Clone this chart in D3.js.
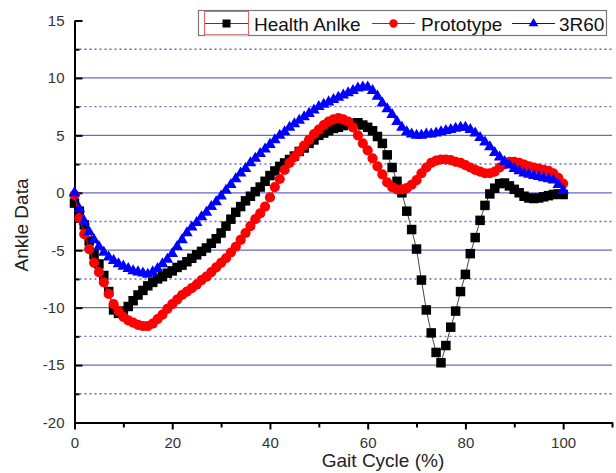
<!DOCTYPE html>
<html>
	<head>
		<meta charset="utf-8">
		<title>Ankle Data</title>
		<style>
			body { margin: 0; background: #fff; }
			.axis text { font: 15px "Liberation Sans", Arial, sans-serif; fill: #333; }
			.axis path, .axis line { stroke: #000; stroke-width: 2; }
			.title { font: 19px "Liberation Sans", Arial, sans-serif; fill: #222; }
			.legend text { font: 19px "Liberation Sans", Arial, sans-serif; fill: #111; }
		</style>
		<script src="https://d3js.org/d3.v7.min.js"></script>
	</head>
	<body>
		<div id="chart"></div>
		<script>
			// gait cycle in %, one value per step
			var cycle = d3.range(0, 101);

			var health = [
				-0.9, -1.6, -2.8, -4.2, -5.4, -6.2, -7.2, -8.6, -10.2, -10.5,
				-10.3, -9.9, -9.4, -8.9, -8.5, -8.1, -7.8, -7.5, -7.3, -7.0,
				-6.8, -6.5, -6.3, -6.0, -5.7, -5.4, -5.1, -4.8, -4.4, -4.0,
				-3.5, -2.9, -2.3, -1.7, -1.2, -0.7, -0.3, 0.1, 0.5, 1.0,
				1.5, 1.9, 2.3, 2.6, 2.9, 3.2, 3.6, 3.9, 4.3, 4.6,
				5.0, 5.2, 5.4, 5.6, 5.7, 5.85, 5.95, 6.05, 6.1, 5.9,
				5.7, 5.4, 4.9, 4.3, 3.3, 2.2, 1.0, 0.0, -1.6, -3.2,
				-4.9, -7.6, -10.2, -12.2, -13.9, -14.8, -13.3, -11.7, -10.3, -8.6,
				-7.1, -5.3, -3.9, -2.4, -1.1, -0.1, 0.4, 0.8, 0.85, 0.6,
				0.3, 0.0, -0.3, -0.45, -0.5, -0.45, -0.35, -0.25, -0.15, -0.1,
				-0.15
			];

			var prototype = [
				-0.2, -2.2, -3.6, -4.9, -6.1, -6.9, -7.8, -8.8, -9.7, -10.3,
				-10.8, -11.1, -11.3, -11.5, -11.6, -11.6, -11.4, -11.0, -10.6, -10.1,
				-9.7, -9.3, -8.9, -8.6, -8.3, -8.0, -7.6, -7.3, -6.9, -6.5,
				-6.1, -5.7, -5.2, -4.7, -4.1, -3.5, -2.9, -2.3, -1.8, -1.2,
				-0.4, 0.5, 1.2, 2.0, 2.6, 3.1, 3.6, 4.1, 4.6, 5.1,
				5.5, 5.9, 6.2, 6.4, 6.5, 6.4, 6.2, 5.7, 5.0, 4.3,
				3.7, 3.0, 2.3, 1.6, 0.9, 0.5, 0.3, 0.3, 0.4, 0.7,
				1.1, 1.7, 2.2, 2.6, 2.8, 2.9, 2.9, 2.85, 2.7, 2.6,
				2.4, 2.2, 2.0, 1.85, 1.7, 1.7, 1.85, 2.2, 2.5, 2.7,
				2.7, 2.6, 2.45, 2.3, 2.2, 2.1, 2.0, 1.9, 1.7, 1.3,
				0.8
			];

			var r3r60 = [
				0.0, -1.4, -2.5, -3.4, -4.1, -4.7, -5.2, -5.6, -5.9, -6.2,
				-6.4, -6.6, -6.8, -6.9, -7.0, -7.1, -6.9, -6.6, -6.2, -5.8,
				-5.3, -4.7, -4.1, -3.5, -3.0, -2.6, -2.1, -1.7, -1.2, -0.8,
				-0.3, 0.2, 0.7, 1.2, 1.7, 2.1, 2.6, 3.0, 3.4, 3.8,
				4.2, 4.6, 5.0, 5.3, 5.7, 6.0, 6.3, 6.6, 6.9, 7.2,
				7.5, 7.7, 7.9, 8.1, 8.3, 8.5, 8.7, 8.9, 9.1, 9.2,
				9.2, 8.9, 8.4, 7.8, 7.3, 6.8, 6.2, 5.7, 5.3, 5.1,
				5.0, 5.0, 5.1, 5.1, 5.2, 5.3, 5.4, 5.5, 5.6, 5.7,
				5.7, 5.5, 5.2, 4.8, 4.4, 4.0, 3.5, 3.1, 2.7, 2.4,
				2.1, 1.9, 1.7, 1.6, 1.5, 1.4, 1.3, 1.2, 1.1, 0.7,
				0.2
			];

			var seriesNames = ["Health Anlke", "Prototype", "3R60"];
			var xMajor = [0, 20, 40, 60, 80, 100];
			var xMinor = [10, 30, 50, 70, 90, 110];
			var yMajor = [-20, -15, -10, -5, 0, 5, 10, 15];
			var yMinor = [-17.5, -12.5, -7.5, -2.5, 2.5, 7.5, 12.5];

			var width = 616, height = 473;

			var x = d3.scaleLinear().domain([0, 110]).range([74.5, 612]);
			var y = d3.scaleLinear().domain([-20, 15]).range([422.5, 20.5]);

			var svg = d3.select("#chart").append("svg")
				.attr("width", width)
				.attr("height", height);

			// grid: solid at majors, dotted at minors
			svg.append("g").selectAll("line")
				.data(yMajor.filter(function(v) { return v > -20 && v < 15; }))
				.enter().append("line")
				.attr("x1", x(0)).attr("x2", x(110))
				.attr("y1", function(d) { return y(d); })
				.attr("y2", function(d) { return y(d); })
				.attr("stroke", "#6a6ac4")
				.attr("stroke-width", 1.3);

			svg.append("g").selectAll("line")
				.data(yMinor)
				.enter().append("line")
				.attr("x1", x(0)).attr("x2", x(110))
				.attr("y1", function(d) { return y(d); })
				.attr("y2", function(d) { return y(d); })
				.attr("stroke", "#6a6ac4")
				.attr("stroke-width", 1.4)
				.attr("stroke-dasharray", "2,3");

			// axes (plain hyphen for negatives, like the original)
			var plain = function(d) { return String(d); };

			svg.append("g")
				.attr("class", "axis")
				.attr("transform", "translate(" + x(0) + ",0)")
				.call(d3.axisLeft(y).tickValues(yMajor).tickFormat(plain).tickSize(-8).tickSizeOuter(0).tickPadding(10));

			svg.append("g")
				.attr("class", "axis")
				.attr("transform", "translate(" + x(0) + ",0)")
				.call(d3.axisLeft(y).tickValues(yMinor).tickSize(-5).tickSizeOuter(0).tickFormat(""));

			svg.append("g")
				.attr("class", "axis")
				.attr("transform", "translate(0," + y(-20) + ")")
				.call(d3.axisBottom(x).tickValues(xMajor).tickFormat(plain).tickSize(7).tickSizeOuter(0).tickPadding(8));

			svg.append("g")
				.attr("class", "axis")
				.attr("transform", "translate(0," + y(-20) + ")")
				.call(d3.axisBottom(x).tickValues(xMinor).tickSize(5).tickSizeOuter(0).tickFormat(""));

			svg.append("text")
				.attr("class", "title")
				.attr("x", 383)
				.attr("y", 467)
				.attr("text-anchor", "middle")
				.text("Gait Cycle (%)");

			svg.append("text")
				.attr("class", "title")
				.attr("transform", "translate(28," + 225 + ") rotate(-90)")
				.attr("text-anchor", "middle")
				.text("Ankle Data");

			// series
			var line = d3.line()
				.x(function(d) { return x(d[0]); })
				.y(function(d) { return y(d[1]); });

			function pairs(vals) {
				return cycle.map(function(c, i) { return [c, vals[i]]; });
			}

			var square = d3.symbol().type(d3.symbolSquare).size(90);
			var triangle = d3.symbol().type(d3.symbolTriangle).size(58);

			svg.append("path")
				.datum(pairs(health))
				.attr("fill", "none")
				.attr("stroke", "#444")
				.attr("stroke-width", 1)
				.attr("d", line);

			svg.append("g").selectAll("path")
				.data(pairs(health))
				.enter().append("path")
				.attr("transform", function(d) { return "translate(" + x(d[0]) + "," + y(d[1]) + ")"; })
				.attr("d", square)
				.attr("fill", "#000");

			svg.append("path")
				.datum(pairs(prototype))
				.attr("fill", "none")
				.attr("stroke", "#f00")
				.attr("stroke-width", 1)
				.attr("d", line);

			svg.append("g").selectAll("circle")
				.data(pairs(prototype))
				.enter().append("circle")
				.attr("cx", function(d) { return x(d[0]); })
				.attr("cy", function(d) { return y(d[1]); })
				.attr("r", 5.1)
				.attr("fill", "#f00");

			svg.append("path")
				.datum(pairs(r3r60))
				.attr("fill", "none")
				.attr("stroke", "#00f")
				.attr("stroke-width", 1)
				.attr("d", line);

			svg.append("g").selectAll("path")
				.data(pairs(r3r60))
				.enter().append("path")
				.attr("transform", function(d) { return "translate(" + x(d[0]) + "," + y(d[1]) + ")"; })
				.attr("d", triangle)
				.attr("fill", "#00f");

			// legend
			var legend = svg.append("g").attr("class", "legend");

			legend.append("rect")
				.attr("x", 198.5).attr("y", 10.5)
				.attr("width", 408).attr("height", 25)
				.attr("fill", "#fff")
				.attr("stroke", "#777")
				.attr("stroke-width", 1.2);

			legend.append("rect")
				.attr("x", 204.5).attr("y", 11.5)
				.attr("width", 44).attr("height", 23)
				.attr("fill", "none")
				.attr("stroke", "#f06060");

			legend.append("line")
				.attr("x1", 205).attr("x2", 248)
				.attr("y1", 35.5).attr("y2", 35.5)
				.attr("stroke", "#80eef0")
				.attr("stroke-width", 1.5);

			var legendX = [205, 372, 512];
			var legendText = [254, 421, 559];
			var legendColor = ["#000", "#f00", "#00f"];
			var ly = 23.5;

			seriesNames.forEach(function(name, i) {
				legend.append("line")
					.attr("x1", legendX[i]).attr("x2", legendX[i] + 43)
					.attr("y1", ly).attr("y2", ly)
					.attr("stroke", i == 0 ? "#444" : legendColor[i])
					.attr("stroke-width", 1.2);
				var cx = legendX[i] + 21.5;
				if (i == 0) {
					legend.append("path").attr("transform", "translate(" + cx + "," + ly + ")")
						.attr("d", d3.symbol().type(d3.symbolSquare).size(64)).attr("fill", "#000");
				} else if (i == 1) {
					legend.append("circle").attr("cx", cx).attr("cy", ly).attr("r", 4.2).attr("fill", "#f00");
				} else {
					legend.append("path").attr("transform", "translate(" + cx + "," + ly + ")")
						.attr("d", d3.symbol().type(d3.symbolTriangle).size(40)).attr("fill", "#00f");
				}
				legend.append("text")
					.attr("x", legendText[i])
					.attr("y", ly + 7)
					.text(name);
			});
		</script>
	</body>
</html>
